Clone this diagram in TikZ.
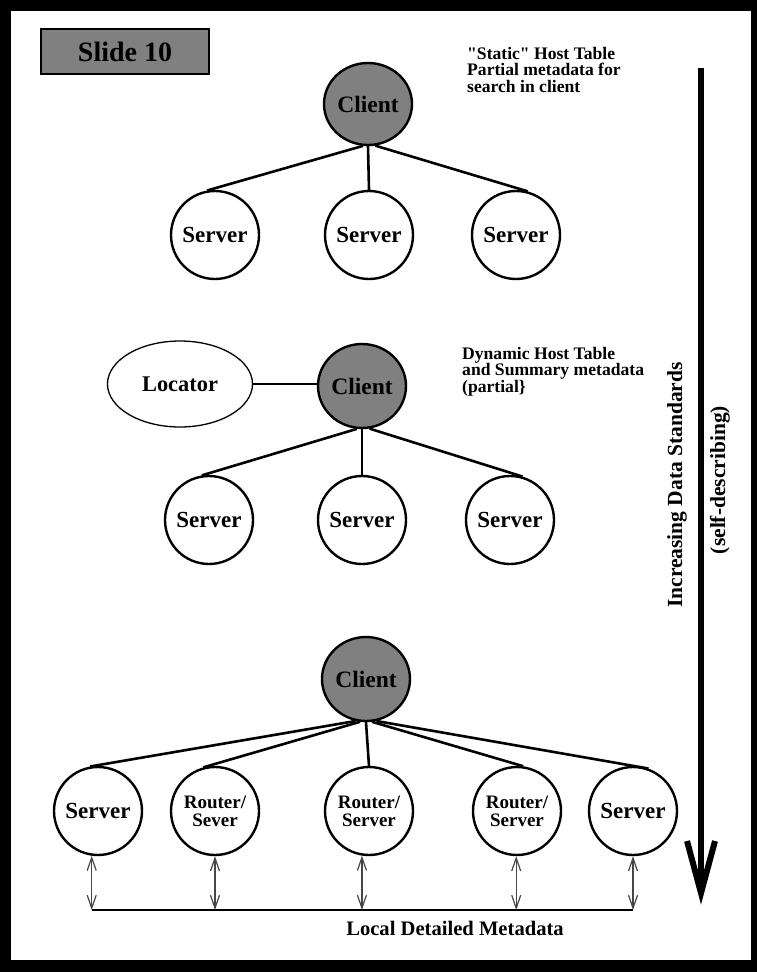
\documentclass[tikz,border=0pt]{standalone}
\usepackage{fontspec}
\setmainfont{Liberation Serif}[Ligatures=TeXOff]
\usetikzlibrary{shapes.geometric,arrows.meta,calc}
\definecolor{nodegray}{RGB}{128,128,128}
\definecolor{linkgray}{RGB}{70,70,70}
\tikzset{
  lbl/.style={font=\fontsize{23}{24}\selectfont\bfseries},
  srv/.style={draw, circle, line width=2.4pt, minimum size=88pt, inner sep=0pt, lbl},
  rtr/.style={srv, align=center, font=\fontsize{19}{18}\selectfont\bfseries},
  cli/.style={draw, ellipse, fill=nodegray, line width=2.4pt, minimum width=88pt,
              minimum height=82pt, inner sep=0pt, font=\fontsize{23.5}{24}\selectfont\bfseries},
  link/.style={line width=2.6pt},
  note/.style={anchor=north west, align=left, inner sep=0pt,
               font=\fontsize{17.6}{16.5}\selectfont\bfseries},
  updown/.style={linkgray, line width=1.2pt, {Straight Barb[length=13pt,width=9pt]}-{Straight Barb[length=13pt,width=9pt]}},
  side/.style={rotate=90, font=\fontsize{21.5}{24}\selectfont\bfseries}
}
\begin{document}
\begin{tikzpicture}[x=1pt,y=-1pt]
  \useasboundingbox (0,0) rectangle (757,972);
  % page frame
  \fill[black] (0,0) rectangle (757,972);
  \fill[white] (11,11) rectangle (751,960);

  % title box
  \node[draw, fill=nodegray, line width=2pt, minimum width=168pt, minimum height=45pt,
        inner sep=0pt, font=\fontsize{28}{30}\selectfont\bfseries] (title) at (125,51.5) {Slide 10};

  % first scheme: static host table
  \node[cli] (c1) at (368,104) {Client};
  \node[srv] (s11) at (215,235) {Server};
  \node[srv] (s12) at (369,235) {Server};
  \node[srv] (s13) at (516,235) {Server};
  \draw[link] (c1.-97) -- (s11.100);
  \draw[link] (c1.south) -- (s12.north);
  \draw[link] (c1.-80) -- (s13.75);
  \node[note] (n1) at (467,47) {"Static" Host Table\\Partial metadata for\\search in client};

  % second scheme: dynamic host table with locator
  \node[cli, minimum height=84pt] (c2) at (362,386) {Client};
  \node[draw, ellipse, line width=1.3pt, minimum width=145pt, minimum height=86pt,
        inner sep=0pt, font=\fontsize{22.4}{24}\selectfont\bfseries] (loc) at (180,384) {Locator};
  \node[srv] (s21) at (209,520) {Server};
  \node[srv] (s22) at (362,520) {Server};
  \node[srv] (s23) at (510,520) {Server};
  \draw[link] (loc.east) -- (c2.west |- loc.east);
  \draw[link] (c2.-97) -- (s21.99);
  \draw[link] (c2.south) -- (s22.north);
  \draw[link] (c2.-80) -- (s23.74);
  \node[note] (n2) at (462,347) {Dynamic Host Table\\and Summary metadata\\(partial\}};

  % third scheme: routers and local metadata
  \node[cli, minimum height=84pt] (c3) at (366,679) {Client};
  \node[srv] (s31) at (98,811) {Server};
  \node[rtr] (s32) at (215,811) {Router/\\Sever};
  \node[rtr] (s33) at (369,811) {Router/\\Server};
  \node[rtr] (s34) at (517,811) {Router/\\Server};
  \node[srv] (s35) at (633,811) {Server};
  \draw[link] (c3.-104) -- (s31.100);
  \draw[link] (c3.-98) -- (s32.105);
  \draw[link] (c3.south) -- (s33.north);
  \draw[link] (c3.-82) -- (s34.82);
  \draw[link] (c3.-76) -- (s35.70);

  % shared metadata bus
  \coordinate (busL) at (92,910);
  \coordinate (busR) at (633,910);
  \draw[line width=2.4pt] (busL) -- (busR);
  \draw[updown] (s31.-98) -- (s31.-98 |- busL);
  \draw[updown] (s32.south) -- (s32.south |- busL);
  \draw[updown] (s33.-99) -- (s33.-99 |- busL);
  \draw[updown] (s34.-91) -- (s34.-91 |- busL);
  \draw[updown] (s35.south) -- (s35.south |- busL);
  \node[font=\fontsize{20.6}{22}\selectfont\bfseries] (meta) at (455,928) {Local Detailed Metadata};

  % trend arrow
  \coordinate (arTop) at (701,68);
  \coordinate (arTip) at (701,893);
  \draw[line width=6pt] (arTop) -- (arTip);
  \draw[line width=6pt, line join=miter, miter limit=20] ($(arTip)+(-14,-52)$) -- (arTip) -- ($(arTip)+(14,-52)$);
  \node[side] (inc) at (677,485) {Increasing Data Standards};
  \node[side] (self) at (720,480) {(self-describing)};
\end{tikzpicture}
\end{document}
